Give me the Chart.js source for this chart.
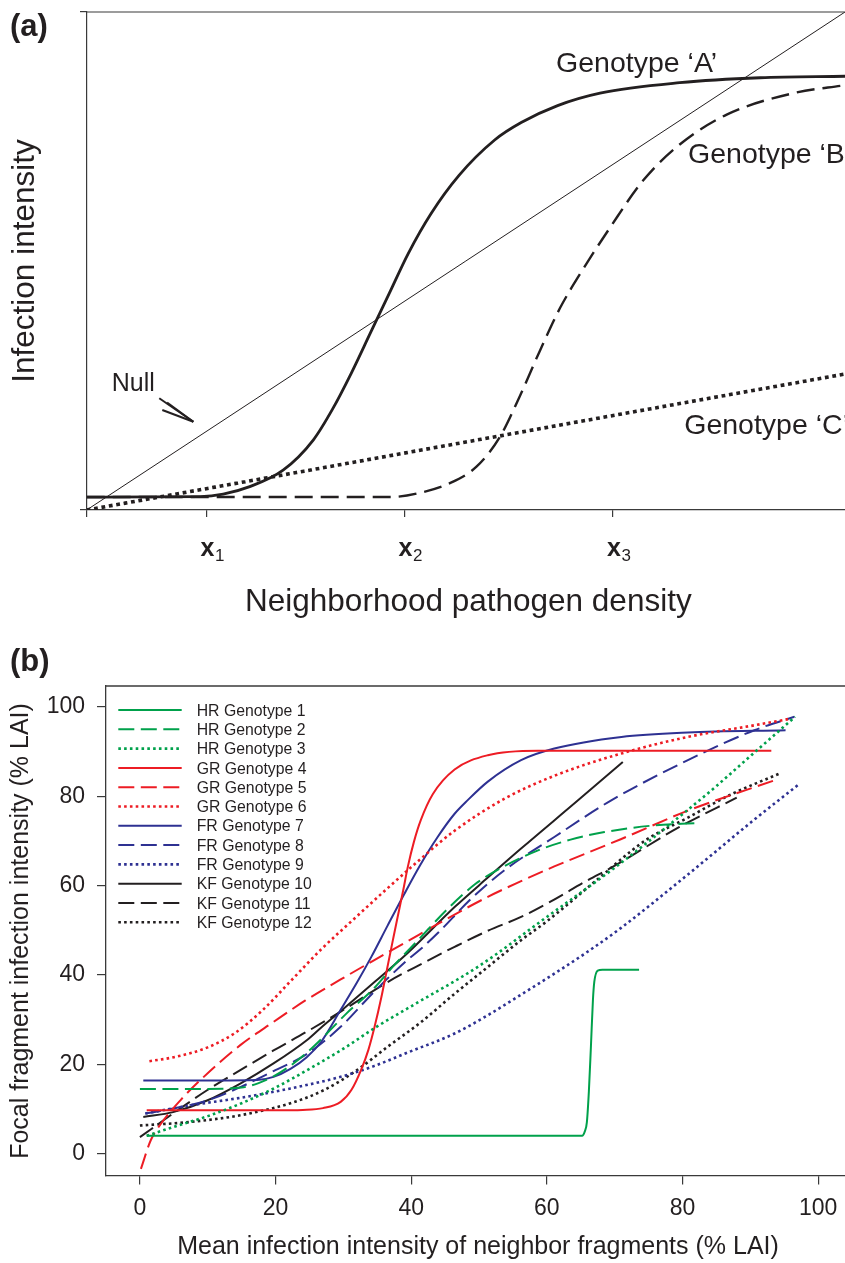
<!DOCTYPE html>
<html>
<head>
<meta charset="utf-8">
<title>Infection intensity vs neighborhood pathogen density</title>
<script src="https://cdn.jsdelivr.net/npm/chart.js@4.4.1/dist/chart.umd.min.js"></script>
<style>
  html, body { margin: 0; padding: 0; background: #fff; overflow: hidden; width: 845px; height: 1263px; }
  canvas { position: absolute; left: 0; }
  #chartA { top: 0; }
  #chartB { top: 640px; }
</style>
</head>
<body>
<canvas id="chartA" width="860" height="640"></canvas>
<canvas id="chartB" width="860" height="623"></canvas>
<script>
const ink = '#231f20';
const frameInk = '#3a3a3a';
const face = '"Liberation Sans", Arial, Helvetica, sans-serif';

Chart.defaults.font.family = face;
Chart.defaults.color = ink;
Chart.defaults.animation = false;

/*******************************************************
 *            (a) conceptual response curves            *
 ********************************************************/
const aTicks = [0, 15.8, 41.9, 69.4];
const aTickSubs = ['', '1', '2', '3'];

const nullX = [0, 100];
const nullY = [0, 100];
const genoAX = [0, 15, 18, 21.5, 25.9, 29.9, 32.4, 34.9, 37.4, 39.9, 42.4, 45.4, 49.1, 53.8, 57.3, 62.1, 67.7, 78.2, 88.8, 100];
const genoAY = [2.6, 2.7, 3.2, 4.7, 8.0, 14.1, 20.2, 27.5, 35.5, 43.5, 51.5, 59.5, 67.2, 74.3, 77.8, 81.2, 83.7, 85.8, 86.8, 87.1];
const genoBX = [0, 40, 43.5, 47.9, 51.4, 54.5, 57.1, 59.8, 62.4, 65.1, 69.1, 73.4, 78.2, 84.4, 93.2, 100];
const genoBY = [2.6, 2.6, 3.3, 5.4, 8.7, 14.7, 22.8, 32.1, 40.5, 47.5, 56.9, 66.2, 73.4, 79.4, 83.7, 85.3];
const genoCX = [0, 25, 50, 75, 100];
const genoCY = [0, 6.8, 13.65, 20.5, 27.3];

// label anchors (left edge, baseline) in data units
const aNotes = [
  { text: 'Genotype \u2018A\u2019', x: 61.9, y: 87.9 },
  { text: 'Genotype \u2018B\u2019', x: 79.3, y: 69.6 },
  { text: 'Genotype \u2018C\u2019', x: 78.8, y: 15.2 },
  { text: 'Null', x: 3.3, y: 23.8 }
];
const nullArrowTip = { x: 14.06, y: 17.73 };
const nullArrowTails = [{ x: 9.57, y: 22.43 }, { x: 9.97, y: 20.08 }, { x: 10.6, y: 21.6 }];

function pts(xs, ys) {
  return xs.map(function (x, i) { return { x: x, y: ys[i] }; });
}

const panelAExtras = {
  id: 'panelAExtras',
  afterDraw(chart) {
    const ctx = chart.ctx;
    const area = chart.chartArea;
    const sx = chart.scales.x, sy = chart.scales.y;
    ctx.save();
    // top frame line
    ctx.strokeStyle = frameInk;
    ctx.lineWidth = 1.2;
    ctx.beginPath();
    ctx.moveTo(area.left, area.top);
    ctx.lineTo(area.right, area.top);
    ctx.stroke();

    // x1, x2, x3 tick labels
    ctx.fillStyle = ink;
    ctx.textBaseline = 'alphabetic';
    for (let i = 1; i < aTicks.length; i++) {
      const px = sx.getPixelForValue(aTicks[i]);
      ctx.font = 'bold 25px ' + face;
      const w = ctx.measureText('x').width;
      ctx.fillText('x', px + 1 - w / 2, area.bottom + 45.5);
      ctx.font = '17px ' + face;
      ctx.fillText(aTickSubs[i], px + 1 + w / 2 + 0.5, area.bottom + 50.5);
    }

    // curve labels
    aNotes.forEach(function (n) {
      ctx.font = (n.text === 'Null' ? '25px ' : '28.5px ') + face;
      ctx.fillText(n.text, sx.getPixelForValue(n.x), sy.getPixelForValue(n.y));
    });

    // arrow pointing at the null line
    ctx.strokeStyle = ink;
    ctx.lineWidth = 2;
    const tx = sx.getPixelForValue(nullArrowTip.x), ty = sy.getPixelForValue(nullArrowTip.y);
    nullArrowTails.forEach(function (t) {
      ctx.beginPath();
      ctx.moveTo(sx.getPixelForValue(t.x), sy.getPixelForValue(t.y));
      ctx.lineTo(tx, ty);
      ctx.stroke();
    });

    ctx.font = 'bold 31px ' + face;
    ctx.fillText('(a)', 10, 35.5);
    ctx.restore();
  }
};

const chartA = new Chart(document.getElementById('chartA').getContext('2d'), {
  type: 'scatter',
  data: {
    datasets: [
      { label: 'Null', data: pts(nullX, nullY), borderColor: ink, borderWidth: 1 },
      { label: 'Genotype A', data: pts(genoAX, genoAY), borderColor: ink, borderWidth: 2.8 },
      { label: 'Genotype B', data: pts(genoBX, genoBY), borderColor: ink, borderWidth: 2.4, borderDash: [18, 8] },
      { label: 'Genotype C', data: pts(genoCX, genoCY), borderColor: ink, borderWidth: 3.6, borderDash: [3.8, 3.7] }
    ]
  },
  options: {
    responsive: false,
    showLine: true,
    layout: { padding: { left: 0, top: 12, right: 10, bottom: 0 } },
    elements: {
      point: { radius: 0, hoverRadius: 0 },
      line: { cubicInterpolationMode: 'monotone', borderCapStyle: 'butt', fill: false }
    },
    plugins: { legend: { display: false }, tooltip: { enabled: false } },
    scales: {
      x: {
        type: 'linear', min: 0, max: 100.66,
        afterBuildTicks: function (s) { s.ticks = aTicks.map(function (v) { return { value: v }; }); },
        afterFit: function (s) { s.height = 130; },
        ticks: { display: false },
        grid: { drawOnChartArea: false, tickLength: 7, color: frameInk, lineWidth: 1.2 },
        border: { color: frameInk, width: 1.2 },
        title: { display: true, text: 'Neighborhood pathogen density', color: ink,
                 font: { size: 31.5 }, padding: { top: 0, bottom: 18.4 } }
      },
      y: {
        type: 'linear', min: 0, max: 100,
        afterBuildTicks: function (s) { s.ticks = [{ value: 0 }, { value: 100 }]; },
        afterFit: function (s) { s.width = 86.7; },
        ticks: { display: false },
        grid: { drawOnChartArea: false, tickLength: 6.7, color: frameInk, lineWidth: 1.2 },
        border: { color: frameInk, width: 1.2 },
        title: { display: true, text: 'Infection intensity', color: ink,
                 font: { size: 31.5 }, padding: { top: 6.2, bottom: 0 } }
      }
    }
  },
  plugins: [panelAExtras]
});

/*******************************************************
 *        (b) fitted curves for twelve genotypes        *
 ********************************************************/
const bTicks = [0, 20, 40, 60, 80, 100];

const hr1X = [1, 20, 40, 65.2, 65.6, 65.9, 66.2, 66.5, 66.8, 67.0, 67.5, 68.2, 73.6];
const hr1Y = [4, 4, 4, 4, 5, 7, 14, 24, 34.5, 38.5, 41, 41.2, 41.2];
const hr2X = [0, 10, 15, 17.5, 19.7, 22.2, 24.6, 27.5, 30.4, 34.3, 37.5, 40.7, 45.5, 49.4, 52.8, 58.7, 63.5, 68.5, 75.9, 81.8];
const hr2Y = [14.5, 14.5, 14.8, 15.8, 17.3, 19.7, 22.6, 26.8, 31.3, 36.7, 42.2, 47.3, 55.0, 60.3, 63.6, 67.9, 70.3, 72.0, 73.5, 74.0];
const hr3X = [1, 5, 10, 15, 20, 25, 30, 35, 40, 50, 60, 70, 80, 85, 90, 96.6];
const hr3Y = [4, 6, 8.4, 11.3, 14.8, 19, 23.5, 28.5, 33, 42, 53, 64, 76, 82.3, 89, 97.8];

const gr4X = [1, 10, 20, 24, 27, 29.6, 31.2, 32.6, 33.7, 34.6, 35.6, 36.5, 37.3, 38.0, 38.8, 39.5, 40.4, 41.4, 43.2, 46.4, 51.3, 58.7, 70, 93.1];
const gr4Y = [9.7, 9.7, 9.7, 9.8, 10.2, 11.6, 14.3, 18.7, 23.3, 28.4, 35.0, 41.8, 47.8, 53.0, 58.8, 64.2, 69.8, 74.6, 80.5, 86.0, 89.2, 90.2, 90.2, 90.2];
const gr5X = [0.15, 1.6, 3.1, 6, 9, 14.8, 19.7, 24.4, 29.6, 34.5, 39.4, 44, 51.3, 56.2, 61.1, 70.9, 80.8, 93.6];
const gr5Y = [-3.4, 3.0, 6.7, 12, 16.6, 24.3, 29.5, 34.3, 39, 43.3, 47.5, 51.5, 57.5, 61, 64.3, 70.4, 76.8, 83.6];
const gr6X = [1.4, 5, 10, 14, 18, 22.2, 26.7, 31.6, 36.5, 41.4, 46.4, 53.8, 61.1, 71, 80.8, 90.6, 96];
const gr6Y = [20.7, 21.6, 23.8, 27, 32, 38.6, 45.7, 52.6, 59.4, 66, 72.3, 79.5, 84.6, 89.6, 93.3, 95.9, 97.4];

const fr7X = [0.5, 10, 17.3, 19.7, 22.2, 24.6, 26.7, 29.6, 32, 34.1, 36.5, 39, 41.4, 43.9, 46.4, 48.3, 51.3, 56.2, 61.1, 71, 80.8, 95.2];
const fr7Y = [16.4, 16.4, 16.5, 17.2, 19, 21.6, 25.0, 32.2, 38.3, 44.0, 51.0, 58.2, 64.8, 70.9, 76.1, 79.1, 83.3, 88.1, 90.7, 93.3, 94.3, 94.8];
const fr8X = [0.8, 4.9, 9.9, 14.8, 19.7, 24.6, 29.6, 34.5, 39.4, 41.4, 44, 48.8, 53.7, 61.1, 69.5, 80.8, 90.6, 96.5];
const fr8Y = [9, 10.1, 11.9, 14.9, 18.5, 22.3, 28.4, 36.2, 43.3, 45.8, 49.5, 57.0, 63.4, 70.9, 79.1, 88.1, 94.8, 97.8];
const fr9X = [0.8, 7.4, 14.8, 22.2, 29.6, 34.5, 39.4, 46.4, 51.3, 56.2, 61.1, 66, 70.9, 80.8, 90.6, 97];
const fr9Y = [9, 10.8, 12.5, 14.6, 17.2, 19.6, 22.6, 26.9, 31.0, 35.6, 40.3, 45.2, 50.5, 62.5, 74.8, 82.5];

const kf10X = [0.5, 4.9, 9.9, 14.8, 19.7, 24.6, 26.7, 29.6, 34.5, 39.4, 46.4, 51.3, 56.2, 64.6, 71.2];
const kf10Y = [8.2, 9.3, 11.9, 15.7, 20.2, 25.4, 28.2, 31.9, 38.3, 44.8, 55.2, 61.8, 68.3, 79.1, 87.7];
const kf11X = [0, 4.9, 9.9, 14.8, 19.7, 24.6, 29.6, 36.5, 41.4, 46.4, 51.3, 56.2, 60.4, 66, 69.7, 79.5, 88];
const kf11Y = [3.7, 9, 14.2, 18.7, 23.1, 27.3, 31.8, 38.4, 42.4, 46.3, 49.9, 53.0, 56.3, 61.2, 64.2, 73.1, 79.7];
const kf12X = [0, 7.4, 14.8, 22.2, 27.1, 32, 36.5, 41.4, 46.4, 51.3, 56.2, 59.9, 67.3, 74.6, 80.5, 87.4, 94.3];
const kf12Y = [6.3, 7.1, 8.6, 11.3, 14.2, 18.7, 23.9, 29.4, 35.8, 41.8, 47.8, 51.9, 61.2, 70.2, 75, 80.6, 85.1];

const seriesNames = ['HR Genotype 1', 'HR Genotype 2', 'HR Genotype 3', 'GR Genotype 4', 'GR Genotype 5', 'GR Genotype 6',
  'FR Genotype 7', 'FR Genotype 8', 'FR Genotype 9', 'KF Genotype 10', 'KF Genotype 11', 'KF Genotype 12'];
const seriesX = [hr1X, hr2X, hr3X, gr4X, gr5X, gr6X, fr7X, fr8X, fr9X, kf10X, kf11X, kf12X];
const seriesY = [hr1Y, hr2Y, hr3Y, gr4Y, gr5Y, gr6Y, fr7Y, fr8Y, fr9Y, kf10Y, kf11Y, kf12Y];

// HR green, GR red, FR blue, KF black; solid / dashed / dotted within each site
const siteColors = ['#00a14b', '#ed1c24', '#2e3192', '#231f20'];
const lineKinds = [
  { width: 2, dash: [] },
  { width: 2, dash: [16, 6.5] },
  { width: 2.6, dash: [2.6, 3.2] }
];

const bDatasets = seriesNames.map(function (name, i) {
  const kind = lineKinds[i % 3];
  return {
    label: name,
    data: pts(seriesX[i], seriesY[i]),
    borderColor: siteColors[Math.floor(i / 3)],
    borderWidth: kind.width,
    borderDash: kind.dash
  };
});

const panelBExtras = {
  id: 'panelBExtras',
  afterDraw(chart) {
    const ctx = chart.ctx;
    const area = chart.chartArea;
    ctx.save();
    ctx.strokeStyle = frameInk;
    ctx.lineWidth = 1.3;
    ctx.beginPath();
    ctx.moveTo(area.left, area.top);
    ctx.lineTo(area.right, area.top);
    ctx.stroke();

    // legend in the upper left of the plot
    chart.data.datasets.forEach(function (ds, i) {
      const y = area.top + 24 + i * 19.3;
      ctx.strokeStyle = ds.borderColor;
      ctx.lineWidth = ds.borderWidth;
      ctx.lineCap = 'butt';
      ctx.setLineDash(ds.borderDash || []);
      ctx.beginPath();
      ctx.moveTo(area.left + 12.3, y);
      ctx.lineTo(area.left + 75.7, y);
      ctx.stroke();
      ctx.setLineDash([]);
      ctx.fillStyle = ink;
      ctx.font = '15.8px ' + face;
      ctx.textBaseline = 'alphabetic';
      ctx.fillText(ds.label, area.left + 90.7, y + 5.6);
    });

    ctx.fillStyle = ink;
    ctx.font = 'bold 31px ' + face;
    ctx.fillText('(b)', 10, 30.5);
    ctx.restore();
  }
};

const chartB = new Chart(document.getElementById('chartB').getContext('2d'), {
  type: 'scatter',
  data: { datasets: bDatasets },
  options: {
    responsive: false,
    showLine: true,
    layout: { padding: { left: 0, top: 46, right: 10, bottom: 0 } },
    elements: {
      point: { radius: 0, hoverRadius: 0 },
      line: { cubicInterpolationMode: 'monotone', borderCapStyle: 'butt', fill: false }
    },
    plugins: { legend: { display: false }, tooltip: { enabled: false } },
    scales: {
      x: {
        type: 'linear', min: -5, max: 104.7,
        afterBuildTicks: function (s) { s.ticks = bTicks.map(function (v) { return { value: v }; }); },
        afterFit: function (s) { s.height = 87; },
        ticks: { font: { size: 23 }, color: ink, padding: 10.7, maxRotation: 0 },
        grid: { drawOnChartArea: false, tickLength: 8.5, color: frameInk, lineWidth: 1.2 },
        border: { color: frameInk, width: 1.3 },
        title: { display: true, text: 'Mean infection intensity of neighbor fragments (% LAI)', color: ink,
                 font: { size: 25 }, padding: { top: 0, bottom: 1 } }
      },
      y: {
        type: 'linear', min: -5, max: 104.7,
        afterBuildTicks: function (s) { s.ticks = bTicks.map(function (v) { return { value: v }; }); },
        afterFit: function (s) { s.width = 106; },
        ticks: { font: { size: 23 }, color: ink, padding: 12 },
        grid: { drawOnChartArea: false, tickLength: 9, color: frameInk, lineWidth: 1.2 },
        border: { color: frameInk, width: 1.3 },
        title: { display: true, text: 'Focal fragment infection intensity (% LAI)', color: ink,
                 font: { size: 25 }, padding: { top: 6.5, bottom: 0 } }
      }
    }
  },
  plugins: [panelBExtras]
});
</script>
</body>
</html>
